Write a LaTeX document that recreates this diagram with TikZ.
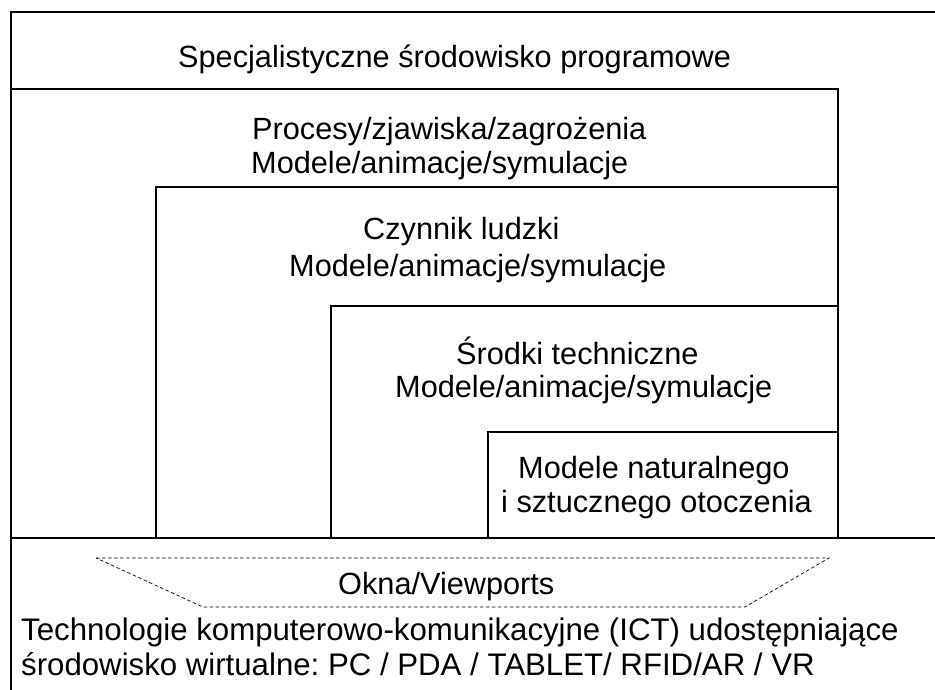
\documentclass[tikz,border=0pt]{standalone}
\usepackage{fontspec}
\setmainfont{Liberation Sans}
\frenchspacing
\begin{document}
\begin{tikzpicture}[x=1pt,y=-1pt,
  lbl/.style={font=\fontsize{30.7}{34}\selectfont\frenchspacing, inner sep=0pt, anchor=base west},
  lblwide/.style={lbl, font=\fontsize{31.2}{34}\selectfont\frenchspacing},
  frame/.style={line width=2pt, line cap=rect},
  win/.style={line width=0.7pt, dash pattern=on 3.5pt off 2.5pt}]
\useasboundingbox (0,0) rectangle (935,690);
\clip (0,0) rectangle (935,690);
% corner coordinates
\coordinate (tl) at (11,12);
\coordinate (tr) at (945,12);
\coordinate (bl) at (11,700);
\coordinate (r1l) at (11,89);
\coordinate (r1r) at (838,89);
\coordinate (b2) at (156,187);
\coordinate (b2r) at (838,187);
\coordinate (b3) at (331,306);
\coordinate (b3r) at (838,306);
\coordinate (b4) at (488,432);
\coordinate (b4r) at (838,432);
\coordinate (basel) at (11,538);
\coordinate (baser) at (945,538);
% frames
\draw[frame] (bl) -- (tl) -- (tr);
\draw[frame] (r1l) -- (r1r) -- (838,538);
\draw[frame] (b2 |- basel) -- (b2) -- (b2r);
\draw[frame] (b3 |- basel) -- (b3) -- (b3r);
\draw[frame] (b4 |- basel) -- (b4) -- (b4r);
\draw[frame] (basel) -- (baser);
% window trapezoid
\coordinate (w1) at (96,558);
\coordinate (w2) at (829,558);
\coordinate (w3) at (745,607);
\coordinate (w4) at (203,607);
\draw[win] (w1) -- (w2) -- (w3) -- (w4) -- cycle;
% texts
\node[lbl] (t1) at (178,68) {Specjalistyczne środowisko programowe};
\node[lbl] (t2a) at (252,140) {Procesy/zjawiska/zagrożenia};
\node[lbl] (t2b) at (251,174) {Modele/animacje/symulacje};
\node[lbl] (t3a) at (363,240) {Czynnik ludzki};
\node[lbl] (t3b) at (289,276) {Modele/animacje/symulacje};
\node[lbl] (t4a) at (456,364) {Środki techniczne};
\node[lbl] (t4b) at (395,397) {Modele/animacje/symulacje};
\node[lbl] (t5a) at (518,478) {Modele naturalnego};
\node[lbl] (t5b) at (501,512) {i sztucznego otoczenia};
\node[lbl] (t6) at (338,594) {Okna/Viewports};
\node[lblwide] (t7a) at (21,640) {Technologie komputerowo-komunikacyjne (ICT) udostępniające};
\node[lblwide] (t7b) at (21,675) {środowisko wirtualne: PC / PDA / TABLET/ RFID/AR / VR};
\end{tikzpicture}
\end{document}
